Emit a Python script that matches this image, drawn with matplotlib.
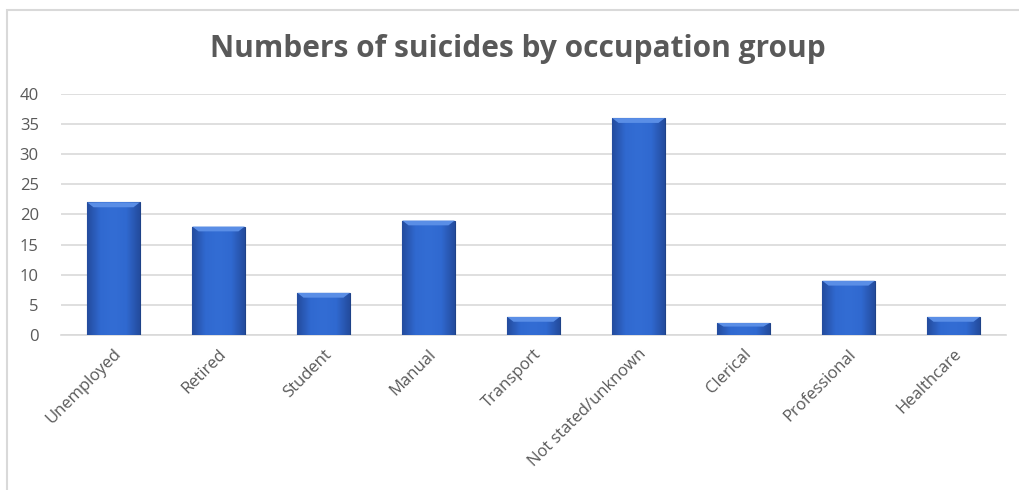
import numpy as np
import matplotlib.pyplot as plt
from matplotlib.patches import Rectangle, Polygon
from matplotlib.colors import LinearSegmentedColormap

categories = ["Unemployed", "Retired", "Student", "Manual", "Transport",
              "Not stated/unknown", "Clerical", "Professional", "Healthcare"]
counts = [22, 18, 7, 19, 3, 36, 2, 9, 3]
yticks = [0, 5, 10, 15, 20, 25, 30, 35, 40]

plt.rcParams['font.family'] = ['Open Sans', 'DejaVu Sans']
grey = '#595959'

fig = plt.figure(figsize=(10.19, 4.9), dpi=100)
ax = fig.add_axes([61 / 1019, 1 - 335 / 490, (1006 - 61) / 1019, (335 - 94) / 490])

# chart border (light grey frame, open on right/bottom like the crop)
fig.patches.append(Rectangle((7 / 1019, -0.1), 1.2, 1 - 10 / 490 + 0.1,
                             transform=fig.transFigure, fill=False,
                             edgecolor='#D9D9D9', linewidth=1.5))

x = np.arange(len(categories))
bars = ax.bar(x, counts, width=0.5, color='#2F64C9', edgecolor='#1E4288',
              linewidth=0.8, zorder=3)

# bevelled look: horizontal shading clipped to each bar
shade = LinearSegmentedColormap.from_list(
    'shade', ['#244C9E', '#3069D0', '#336DD4', '#3069D0', '#244C9E'])
grad = np.linspace(0, 1, 64).reshape(1, -1)
for b in bars:
    x0, w, h = b.get_x(), b.get_width(), b.get_height()
    im = ax.imshow(grad, cmap=shade, aspect='auto', extent=(x0, x0 + w, 0, h),
                   zorder=3.1)
    im.set_clip_path(b)
    # lighter bevelled top
    cap = min(0.8, h * 0.3)
    ax.add_patch(Polygon([(x0, h), (x0 + w, h), (x0 + w * 0.88, h - cap),
                          (x0 + w * 0.12, h - cap)],
                         facecolor='#5A8EE6', edgecolor='none', zorder=3.2))

ax.set_xlim(-0.5, len(categories) - 0.5)
ax.set_ylim(0, 40)
ax.set_yticks(yticks)
ax.set_xticks(x)
ax.set_xticklabels(categories, rotation=45, ha='right', rotation_mode='anchor',
                   fontsize=12, color=grey)
ax.tick_params(axis='y', labelsize=12, labelcolor=grey, length=0, pad=16)
ax.tick_params(axis='x', length=0, pad=8)
ax.grid(axis='y', color='#D9D9D9', linewidth=1.2, zorder=0)
for s in ['top', 'right', 'left']:
    ax.spines[s].set_visible(False)
ax.spines['bottom'].set_color('#D9D9D9')
ax.spines['bottom'].set_linewidth(1.2)

fig.text(518 / 1019, 1 - 49 / 490, "Numbers of suicides by occupation group",
         ha='center', va='center', fontsize=21.5, fontweight='bold', color=grey)

fig.savefig('out.png', dpi=100)
